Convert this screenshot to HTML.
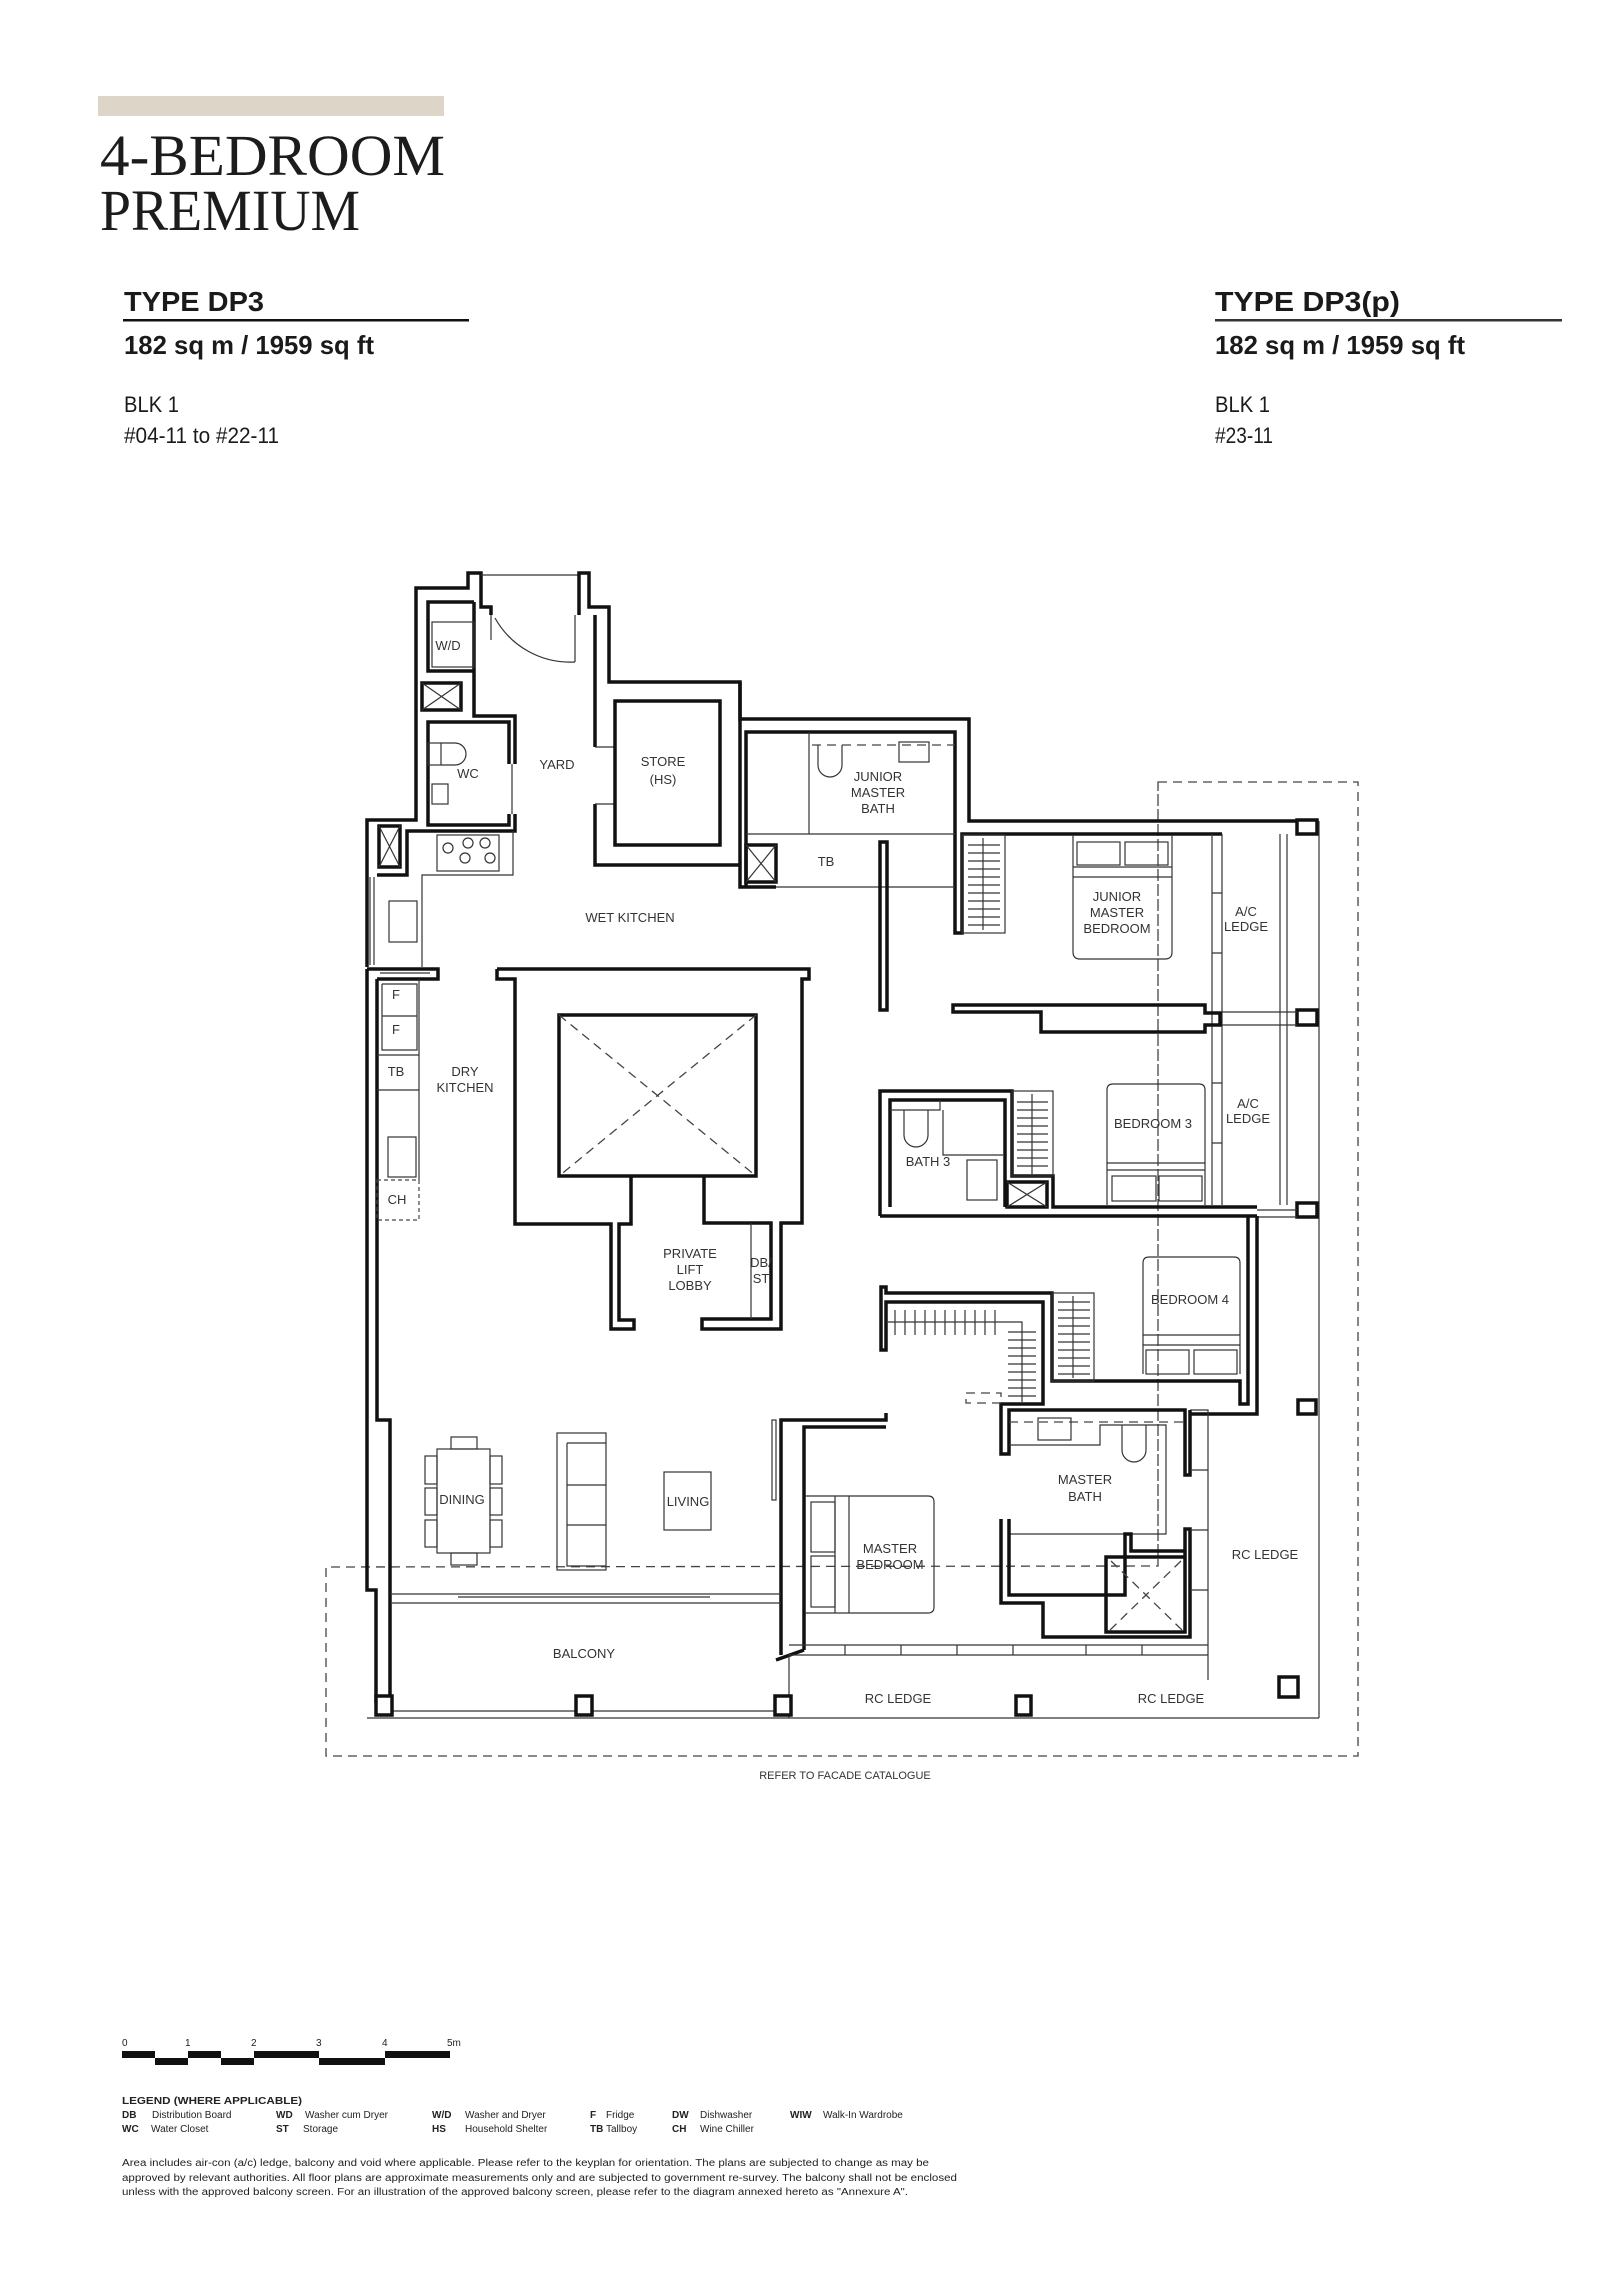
<!DOCTYPE html>
<html><head><meta charset="utf-8"><style>
html,body{margin:0;padding:0;background:#fff}
svg{display:block}
.w{fill:none;stroke:#111;stroke-width:3.5;stroke-linejoin:miter}
.t{fill:none;stroke:#333;stroke-width:1.2}
.d{fill:none;stroke:#444;stroke-width:1.3;stroke-dasharray:9 6}
.p{fill:#fff;stroke:#111;stroke-width:3.5}
.l{font-family:"Liberation Sans",sans-serif;font-size:13px;fill:#333;text-anchor:middle}
</style></head><body>
<svg width="1600" height="2290" viewBox="0 0 1600 2290" xmlns="http://www.w3.org/2000/svg">
<!-- header -->
<rect x="98" y="96" width="346" height="20" fill="#ddd6c8"/>
<text x="100" y="175" font-family="Liberation Serif,serif" font-size="58" fill="#1c1c1c" textLength="345" lengthAdjust="spacingAndGlyphs">4-BEDROOM</text>
<text x="100" y="230" font-family="Liberation Serif,serif" font-size="58" fill="#1c1c1c" textLength="260" lengthAdjust="spacingAndGlyphs">PREMIUM</text>
<g font-family="Liberation Sans,sans-serif" fill="#1a1a1a">
<text x="124" y="311" font-size="28" font-weight="bold" textLength="140" lengthAdjust="spacingAndGlyphs">TYPE DP3</text>
<rect x="123" y="319" width="346" height="2.5" fill="#111"/>
<text x="124" y="354" font-size="26" font-weight="bold" textLength="250" lengthAdjust="spacingAndGlyphs">182 sq m / 1959 sq ft</text>
<text x="124" y="412" font-size="22" textLength="55" lengthAdjust="spacingAndGlyphs">BLK 1</text>
<text x="124" y="443" font-size="22" textLength="155" lengthAdjust="spacingAndGlyphs">#04-11 to #22-11</text>
<text x="1215" y="311" font-size="28" font-weight="bold" textLength="185" lengthAdjust="spacingAndGlyphs">TYPE DP3(p)</text>
<rect x="1215" y="319" width="347" height="2.5" fill="#333"/>
<text x="1215" y="354" font-size="26" font-weight="bold" textLength="250" lengthAdjust="spacingAndGlyphs">182 sq m / 1959 sq ft</text>
<text x="1215" y="412" font-size="22" textLength="55" lengthAdjust="spacingAndGlyphs">BLK 1</text>
<text x="1215" y="443" font-size="22" textLength="58" lengthAdjust="spacingAndGlyphs">#23-11</text>
</g>

<!-- dashed outlines -->
<path class="d" d="M1158 782 L1358 782 L1358 1756 L326 1756 L326 1567 L1158 1566 Z M1158 782 L1158 1566"/>

<!-- service block -->
<path class="w" d="M367 967 L367 820 L416 820 L416 588 L468 588 L468 573 L481 573 L481 607 L491 607 L491 615"/>
<path class="t" d="M481 575 L579 575"/>
<path class="w" d="M579 615 L579 607 L579 573 L589 573 L589 607 L609 607 L609 682 L740 682 L740 887 L776 887"/>
<path class="t" d="M491 615 L491 640 M575 615 L575 662"/>
<path class="t" d="M575 662 A 86 86 0 0 1 495 618"/>
<path class="w" d="M595 615 L595 747 M595 804 L595 865 L740 865"/>
<path class="t" d="M595 747 L615 747 M595 804 L615 804"/>
<rect class="w" x="615" y="701" width="105" height="144"/>
<path class="w" d="M474 602 L428 602 L428 671 L474 671 M474 602 L474 716 L515 716 L515 764"/>
<rect class="t" x="432" y="622" width="42" height="45"/>
<path class="w" d="M509 764 L509 722 L428 722 L428 825 L509 825 L509 814 M515 814 L515 831 L407 831 L407 875 L377 875"/>
<path class="t" d="M512 764 L512 814"/>
<rect class="w" x="422" y="683" width="39" height="27"/><path class="t" d="M422 683 L461 710 M461 683 L422 710"/>
<rect class="w" x="379" y="826" width="21" height="41"/><path class="t" d="M379 826 L400 867 M400 826 L379 867"/>
<rect class="t" x="428" y="743" width="13" height="22"/><path class="t" d="M441 743 L455 743 A11 11 0 0 1 455 765 L441 765"/>
<rect class="t" x="432" y="784" width="16" height="20"/>
<rect class="t" x="437" y="835" width="62" height="36"/>
<g class="t"><circle cx="448" cy="848" r="5"/><circle cx="468" cy="843" r="5"/><circle cx="485" cy="843" r="5"/><circle cx="465" cy="858" r="5"/><circle cx="490" cy="858" r="5"/></g>
<path class="t" d="M513 831 L513 875 L422 875 L422 967 M370 877 L370 965 M374 877 L374 965"/>
<rect class="t" x="389" y="901" width="28" height="41"/>
<!-- left walls -->
<path class="w" d="M367 969 L438 969 L438 979 L377 979"/>
<path class="t" d="M380 973 L430 973"/>
<path class="w" d="M367 969 L367 1590 L376 1590 L376 1703 M377 979 L377 1420 L390 1420 L390 1700"/>
<path class="t" d="M419 979 L419 1180 M382 984 L417 984 L417 1050 L382 1050 L382 984 M382 1016 L417 1016 M377 1055 L419 1055 M377 1090 L419 1090"/>
<rect class="t" x="388" y="1137" width="28" height="40"/>
<rect x="377" y="1180" width="42" height="40" fill="none" stroke="#444" stroke-width="1.2" stroke-dasharray="4 3"/>

<!-- core -->
<path class="w" d="M497 969 L809 969 L809 979 L802 979 L802 1223 L781 1223 L781 1329 L702 1329 L702 1319 L771 1319 L771 1223 L704 1223 L704 1176"/>
<path class="w" d="M497 969 L497 979 L515 979 L515 1224 L611 1224 L611 1329 L634 1329 L634 1320 L619 1320 L619 1224 L631 1224 L631 1176"/>
<rect class="w" x="559" y="1015" width="197" height="161"/>
<path class="d" d="M559 1015 L756 1176 M756 1015 L559 1176"/>
<path class="t" d="M751 1223 L751 1319"/>

<!-- JMB bath & TB -->
<path class="w" d="M740 682 L740 719 L969 719 L969 821 L1297 821"/>
<path class="w" d="M746 887 L746 732 L955 732 L955 933 L962 933 L962 834 L1222 834"/>
<path class="t" d="M746 834 L955 834 M809 732 L809 834 M776 887 L955 887"/>
<path class="d" d="M812 745 L955 745"/>
<rect class="w" x="746" y="845" width="30" height="37"/><path class="t" d="M746 845 L776 882 M776 845 L746 882"/>
<rect class="t" x="899" y="742" width="30" height="20"/>
<path class="t" d="M818 745 L818 765 A12 12 0 0 0 842 765 L842 745"/>
<path class="w" d="M880 842 L880 1010 L887 1010 L887 842 Z"/>
<!-- JM bedroom -->
<rect class="p" x="1297" y="820" width="20" height="14"/>
<rect class="t" x="962" y="835" width="43" height="98"/>
<g class="t"><path d="M983 838 L983 930 M968 845 H1000 M968 853 H1000 M968 861 H1000 M968 869 H1000 M968 877 H1000 M968 885 H1000 M968 893 H1000 M968 901 H1000 M968 909 H1000 M968 917 H1000 M968 925 H1000"/></g>
<path class="t" d="M1073 835 L1073 952 Q1073 959 1080 959 L1165 959 Q1172 959 1172 952 L1172 835 M1073 867 L1172 867 M1073 877 L1172 877"/>
<rect class="t" x="1077" y="842" width="43" height="23"/><rect class="t" x="1125" y="842" width="43" height="23"/>
<path class="t" d="M1212 834 L1212 1205 M1222 834 L1222 1205 M1280 834 L1280 1205 M1287 834 L1287 1205 M1319 821 L1319 1718 M1212 893 H1222 M1212 953 H1222 M1212 1083 H1222 M1212 1143 H1222"/>
<path class="w" d="M953 1005 L1205 1005 L1205 1013 L1220 1013 L1220 1025 L1205 1025 L1205 1032 L1041 1032 L1041 1012 L953 1012 Z"/>
<rect class="p" x="1297" y="1010" width="20" height="15"/>
<path class="t" d="M1222 1012 L1297 1012 M1222 1025 L1297 1025"/>
<!-- bath 3 / bedroom 3 -->
<path class="w" d="M880 1216 L880 1091 L1012 1091 L1012 1176 L1053 1176 L1053 1207 L1257 1207 M880 1216 L1257 1216"/>
<path class="w" d="M890 1207 L890 1100 L1005 1100 L1005 1207"/>
<rect class="t" x="1012" y="1091" width="41" height="85"/>
<g class="t"><path d="M1032 1094 L1032 1174 M1017 1102 H1048 M1017 1110 H1048 M1017 1118 H1048 M1017 1126 H1048 M1017 1134 H1048 M1017 1142 H1048 M1017 1150 H1048 M1017 1158 H1048 M1017 1166 H1048"/></g>
<rect class="w" x="1007" y="1182" width="40" height="25"/><path class="t" d="M1007 1182 L1047 1207 M1047 1182 L1007 1207"/>
<path class="t" d="M890 1110 L940 1110 L940 1100 M943 1110 L943 1155 L1003 1155 M904 1110 L904 1135 A12 12 0 0 0 928 1135 L928 1110"/>
<rect class="t" x="967" y="1160" width="30" height="40"/>
<path class="t" d="M1107 1205 L1107 1090 Q1107 1084 1113 1084 L1199 1084 Q1205 1084 1205 1090 L1205 1205 M1107 1163 L1205 1163 M1107 1170 L1205 1170"/>
<rect class="t" x="1112" y="1176" width="44" height="25"/><rect class="t" x="1159" y="1176" width="43" height="25"/>
<rect class="p" x="1297" y="1203" width="20" height="14"/>
<path class="t" d="M1257 1210 L1297 1210 M1257 1217 L1297 1217"/>
<!-- bedroom 4 / WIW -->
<path class="w" d="M1257 1216 L1257 1414 L1190 1414 M1248 1216 L1248 1404 L1240 1404 L1240 1381 L1052 1381 L1052 1293 L886 1293 L886 1287 L881 1287 L881 1350 L886 1350 L886 1302 L1043 1302 L1043 1404 L1001 1404 L1001 1454 L1009 1454 L1009 1410 L1185 1410 L1185 1475 L1190 1475 L1190 1410"/>
<path class="t" d="M1143 1374 L1143 1263 Q1143 1257 1149 1257 L1234 1257 Q1240 1257 1240 1263 L1240 1374 M1143 1335 L1240 1335 M1143 1345 L1240 1345"/>
<rect class="t" x="1146" y="1350" width="43" height="24"/><rect class="t" x="1194" y="1350" width="43" height="24"/>
<rect class="t" x="1052" y="1293" width="42" height="88"/>
<g class="t"><path d="M1073 1296 V1378 M1058 1302 H1090 M1058 1310 H1090 M1058 1318 H1090 M1058 1326 H1090 M1058 1334 H1090 M1058 1342 H1090 M1058 1350 H1090 M1058 1358 H1090 M1058 1366 H1090 M1058 1374 H1090"/>
<path d="M886 1322 L1022 1322 L1022 1402 M895 1310 V1335 M905 1310 V1335 M915 1310 V1335 M925 1310 V1335 M935 1310 V1335 M945 1310 V1335 M955 1310 V1335 M965 1310 V1335 M975 1310 V1335 M985 1310 V1335 M995 1310 V1335 M1008 1332 H1036 M1008 1340 H1036 M1008 1348 H1036 M1008 1356 H1036 M1008 1364 H1036 M1008 1372 H1036 M1008 1380 H1036 M1008 1388 H1036 M1008 1396 H1036"/></g>
<path class="d" d="M966 1393 L1001 1393 L1001 1403 L966 1403 Z"/>
<!-- master bath -->
<path class="t" d="M1009 1445 L1100 1445 L1100 1425 L1166 1425 L1166 1534 L1131 1534 M1009 1534 L1125 1534"/>
<path class="d" d="M1009 1422 L1185 1422"/>
<rect class="t" x="1038" y="1418" width="33" height="22"/>
<path class="t" d="M1122 1425 L1122 1450 A12 12 0 0 0 1146 1450 L1146 1425"/>
<path class="w" d="M1001 1519 L1001 1603 L1043 1603 L1043 1637 L1190 1637 L1190 1529 L1185 1529 L1185 1632 L1106 1632 L1106 1557 L1185 1557 M1009 1519 L1009 1595 L1125 1595 L1125 1534 L1131 1534 L1131 1551 L1185 1551"/>
<path class="d" d="M1110 1630 L1182 1560 M1182 1630 L1110 1560"/>
<path class="t" d="M1190 1410 L1208 1410 L1208 1655 M1190 1470 H1208 M1190 1530 H1208 M1190 1590 H1208"/>
<!-- master bedroom -->
<path class="w" d="M781 1655 L781 1420 L886 1420 L886 1413 M804 1650 L804 1427 L886 1427 M776 1660 L804 1650"/>
<path class="t" d="M789 1645 L1208 1645 M789 1655 L1208 1655 M845 1645 V1655 M901 1645 V1655 M957 1645 V1655 M1013 1645 V1655 M1086 1645 V1655 M1142 1645 V1655"/>
<path class="t" d="M805 1496 L928 1496 Q934 1496 934 1502 L934 1607 Q934 1613 928 1613 L805 1613 M849 1496 L849 1613 M835 1496 L835 1613"/>
<rect class="t" x="811" y="1502" width="24" height="50"/><rect class="t" x="811" y="1556" width="24" height="51"/>
<rect class="t" x="772" y="1420" width="4" height="80"/>
<!-- living / balcony -->
<rect class="t" x="437" y="1449" width="53" height="104"/>
<g class="t"><rect x="451" y="1437" width="26" height="12"/><rect x="451" y="1553" width="26" height="12"/><rect x="425" y="1456" width="12" height="28"/><rect x="425" y="1488" width="12" height="27"/><rect x="425" y="1520" width="12" height="27"/><rect x="490" y="1456" width="12" height="28"/><rect x="490" y="1488" width="12" height="27"/><rect x="490" y="1520" width="12" height="27"/></g>
<rect class="t" x="557" y="1433" width="49" height="137"/>
<path class="t" d="M567 1443 L606 1443 M567 1443 L567 1566 L606 1566 M567 1485 L606 1485 M567 1525 L606 1525"/>
<rect class="t" x="664" y="1472" width="47" height="58"/>
<path class="t" d="M390 1594 L781 1594 M390 1603 L781 1603 M458 1597 L710 1597 M390 1711 L781 1711 M367 1718 L1319 1718 M789 1655 L789 1718 M1208 1655 L1208 1680"/>
<rect class="p" x="376" y="1696" width="16" height="19"/><rect class="p" x="576" y="1696" width="16" height="19"/><rect class="p" x="775" y="1696" width="16" height="19"/>
<rect class="p" x="1016" y="1696" width="15" height="19"/><rect class="p" x="1279" y="1677" width="19" height="20"/><rect class="p" x="1298" y="1400" width="18" height="14"/>

<!-- labels -->
<g class="l">
<text x="448" y="650">W/D</text><text x="468" y="778">WC</text><text x="557" y="769">YARD</text>
<text x="663" y="766">STORE</text><text x="663" y="784">(HS)</text>
<text x="878" y="781">JUNIOR</text><text x="878" y="797">MASTER</text><text x="878" y="813">BATH</text>
<text x="826" y="866">TB</text><text x="630" y="922">WET KITCHEN</text>
<text x="1117" y="901">JUNIOR</text><text x="1117" y="917">MASTER</text><text x="1117" y="933">BEDROOM</text>
<text x="1246" y="916">A/C</text><text x="1246" y="931">LEDGE</text>
<text x="1248" y="1108">A/C</text><text x="1248" y="1123">LEDGE</text>
<text x="1153" y="1128">BEDROOM 3</text><text x="928" y="1166">BATH 3</text>
<text x="396" y="999">F</text><text x="396" y="1034">F</text><text x="396" y="1076">TB</text>
<text x="465" y="1076">DRY</text><text x="465" y="1092">KITCHEN</text><text x="397" y="1204">CH</text>
<text x="690" y="1258">PRIVATE</text><text x="690" y="1274">LIFT</text><text x="690" y="1290">LOBBY</text>
<text x="761" y="1267">DB/</text><text x="761" y="1283">ST</text>
<text x="1190" y="1304">BEDROOM 4</text>
<text x="1085" y="1484">MASTER</text><text x="1085" y="1501">BATH</text>
<text x="890" y="1553">MASTER</text><text x="890" y="1569">BEDROOM</text>
<text x="462" y="1504">DINING</text><text x="688" y="1506">LIVING</text><text x="584" y="1658">BALCONY</text>
<text x="1265" y="1559">RC LEDGE</text><text x="898" y="1703">RC LEDGE</text><text x="1171" y="1703">RC LEDGE</text>
<text x="845" y="1779" font-size="11">REFER TO FACADE CATALOGUE</text>
</g>

<!-- scale bar -->
<g font-family="Liberation Sans,sans-serif" font-size="10" fill="#222">
<text x="122" y="2046">0</text><text x="185" y="2046">1</text><text x="251" y="2046">2</text><text x="316" y="2046">3</text><text x="382" y="2046">4</text><text x="447" y="2046">5m</text>
</g>
<g fill="#111">
<rect x="122" y="2051" width="33" height="7"/><rect x="155" y="2058" width="33" height="7"/><rect x="188" y="2051" width="33" height="7"/><rect x="221" y="2058" width="33" height="7"/><rect x="254" y="2051" width="65" height="7"/><rect x="319" y="2058" width="66" height="7"/><rect x="385" y="2051" width="65" height="7"/>
</g>
<!-- legend -->
<g font-family="Liberation Sans,sans-serif" font-size="10" fill="#222">
<text x="122" y="2104" font-weight="bold" textLength="180" lengthAdjust="spacingAndGlyphs">LEGEND (WHERE APPLICABLE)</text>
<g font-weight="bold"><text x="122" y="2118">DB</text><text x="122" y="2132">WC</text><text x="276" y="2118">WD</text><text x="276" y="2132">ST</text><text x="432" y="2118">W/D</text><text x="432" y="2132">HS</text><text x="590" y="2118">F</text><text x="590" y="2132">TB</text><text x="672" y="2118">DW</text><text x="672" y="2132">CH</text><text x="790" y="2118">WIW</text></g>
<text x="152" y="2118">Distribution Board</text><text x="151" y="2132">Water Closet</text>
<text x="305" y="2118">Washer cum Dryer</text><text x="303" y="2132">Storage</text>
<text x="465" y="2118">Washer and Dryer</text><text x="465" y="2132">Household Shelter</text>
<text x="606" y="2118">Fridge</text><text x="606" y="2132">Tallboy</text>
<text x="700" y="2118">Dishwasher</text><text x="700" y="2132">Wine Chiller</text>
<text x="823" y="2118">Walk-In Wardrobe</text>
<text x="122" y="2166" textLength="807" lengthAdjust="spacingAndGlyphs">Area includes air-con (a/c) ledge, balcony and void where applicable. Please refer to the keyplan for orientation. The plans are subjected to change as may be</text>
<text x="122" y="2181" textLength="835" lengthAdjust="spacingAndGlyphs">approved by relevant authorities. All floor plans are approximate measurements only and are subjected to government re-survey. The balcony shall not be enclosed</text>
<text x="122" y="2195" textLength="786" lengthAdjust="spacingAndGlyphs">unless with the approved balcony screen. For an illustration of the approved balcony screen, please refer to the diagram annexed hereto as "Annexure A".</text>
</g>
</svg>
</body></html>
